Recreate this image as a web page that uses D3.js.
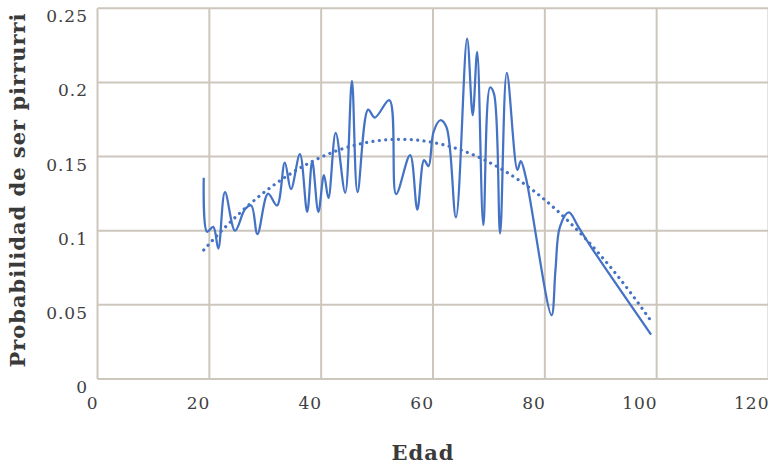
<!DOCTYPE html>
<html>
<head>
<meta charset="utf-8">
<script src="https://cdn.jsdelivr.net/npm/d3@7"></script>
<style>
  html, body { margin: 0; padding: 0; background: #fff; }
  svg { display: block; }
  .tick-label { font-family: 'DejaVu Serif', serif; font-size: 17px; letter-spacing: 1px; fill: #404040; }
  .axis-title { font-family: 'DejaVu Serif', serif; font-size: 21px; font-weight: bold; letter-spacing: 1px; fill: #3a3a3a; }
</style>
</head>
<body>
<div id="chart"></div>
<script>
// ages (x) and probability (y)
const edad = [19, 19.6, 20.7, 21.6, 22.8, 24.6, 26.4, 27.5, 28.6, 30.5, 32.1, 33.5, 34.6, 36.2,
  37.5, 38.4, 39.5, 40.5, 41.3, 42.6, 44.3, 45.5, 46.5, 48.4, 49.6, 52.2, 53.4, 55.9, 57.2,
  58.4, 59.2, 60.1, 61.3, 62.4, 64.1, 66.1, 67.1, 67.9, 69.0, 70.2, 70.9, 72.0, 73.2, 75.1,
  75.7, 76.6, 81.2, 81.9, 82.7, 84.3, 86.0, 88.1, 99];
const prob = [0.1357, 0.0993, 0.1026, 0.088, 0.126, 0.100, 0.1146, 0.117, 0.0977, 0.125, 0.117,
  0.146, 0.128, 0.1516, 0.1127, 0.147, 0.1127, 0.1375, 0.122, 0.166, 0.1256, 0.201, 0.126,
  0.1817, 0.1763, 0.188, 0.1247, 0.151, 0.1143, 0.1476, 0.1435, 0.1667, 0.1745, 0.170, 0.109,
  0.2296, 0.178, 0.2206, 0.1038, 0.1966, 0.1925, 0.0982, 0.2064, 0.141, 0.147, 0.136, 0.0431,
  0.0734, 0.1026, 0.1123, 0.1026, 0.090, 0.030];

const xTicks = [0, 20, 40, 60, 80, 100, 120];
const yTicks = [0, 0.05, 0.1, 0.15, 0.2, 0.25];
const yTickLabels = ['0', '0.05', '0.1', '0.15', '0.2', '0.25'];

const W = 768, H = 465;
const blue = '#4472c4';
const gridColor = '#cdc6bd';

const x = d3.scaleLinear().domain([0, 120]).range([97.5, 768.5]);
const y = d3.scaleLinear().domain([0, 0.25]).range([379, 8.3]);

const svg = d3.select('#chart').append('svg')
  .attr('width', W)
  .attr('height', H);

// grid
svg.append('g').selectAll('line')
  .data(yTicks)
  .enter().append('line')
    .attr('x1', x(0)).attr('x2', x(120))
    .attr('y1', d => y(d)).attr('y2', d => y(d))
    .attr('stroke', gridColor).attr('stroke-width', 2);

svg.append('g').selectAll('line')
  .data(xTicks)
  .enter().append('line')
    .attr('x1', d => x(d)).attr('x2', d => x(d))
    .attr('y1', y(0)).attr('y2', y(0.25))
    .attr('stroke', gridColor).attr('stroke-width', 2);

// tick labels (letter-spacing adds a trailing gap, hence the +1)
svg.append('g').selectAll('text')
  .data(yTicks)
  .enter().append('text')
    .attr('class', 'tick-label')
    .attr('text-anchor', 'end')
    .attr('x', 88)
    .attr('y', d => y(d) + 14)
    .text((d, i) => yTickLabels[i]);

svg.append('g').selectAll('text')
  .data(xTicks)
  .enter().append('text')
    .attr('class', 'tick-label')
    .attr('text-anchor', 'end')
    .attr('x', d => x(d) + 1)
    .attr('y', 409)
    .text(d => d);

// axis titles
svg.append('text')
  .attr('class', 'axis-title')
  .attr('text-anchor', 'middle')
  .attr('transform', 'translate(25,190) rotate(-90)')
  .text('Probabilidad de ser pirrurri');

svg.append('text')
  .attr('class', 'axis-title')
  .attr('text-anchor', 'middle')
  .attr('x', 423)
  .attr('y', 460)
  .text('Edad');

const points = edad.map((e, i) => [e, prob[i]]);

// quadratic (order 2) trend fitted to the points, least squares
function fitQuadratic (pts) {
  const m = d3.mean(pts, p => p[0]);
  const S = [[0, 0, 0], [0, 0, 0], [0, 0, 0]];
  const b = [0, 0, 0];
  pts.forEach(p => {
    const t = p[0] - m;
    const v = [1, t, t * t];
    for (let r = 0; r < 3; r++) {
      b[r] += v[r] * p[1];
      for (let c = 0; c < 3; c++) S[r][c] += v[r] * v[c];
    }
  });
  // gaussian elimination
  for (let i = 0; i < 3; i++) {
    for (let k = i + 1; k < 3; k++) {
      const f = S[k][i] / S[i][i];
      for (let c = i; c < 3; c++) S[k][c] -= f * S[i][c];
      b[k] -= f * b[i];
    }
  }
  const coef = [0, 0, 0];
  for (let i = 2; i >= 0; i--) {
    let s = b[i];
    for (let c = i + 1; c < 3; c++) s -= S[i][c] * coef[c];
    coef[i] = s / S[i][i];
  }
  return xv => { const t = xv - m; return coef[0] + coef[1] * t + coef[2] * t * t; };
}

const trend = fitQuadratic(points);
const x0 = d3.min(edad), x1 = d3.max(edad);
const trendPts = d3.range(0, 201).map(i => {
  const xv = x0 + (x1 - x0) * i / 200;
  return [xv, trend(xv)];
});

const line = d3.line()
  .x(d => x(d[0]))
  .y(d => y(d[1]));

svg.append('path')
  .datum(points)
  .attr('d', line.curve(d3.curveCatmullRom.alpha(0.5)))
  .attr('fill', 'none')
  .attr('stroke', blue)
  .attr('stroke-width', 2.25)
  .attr('stroke-linejoin', 'round');

svg.append('path')
  .datum(trendPts)
  .attr('d', d3.line().x(d => x(d[0])).y(d => y(d[1])))
  .attr('fill', 'none')
  .attr('stroke', blue)
  .attr('stroke-width', 3.2)
  .attr('stroke-linecap', 'round')
  .attr('stroke-dasharray', '0.01 6.4');
</script>
</body>
</html>
